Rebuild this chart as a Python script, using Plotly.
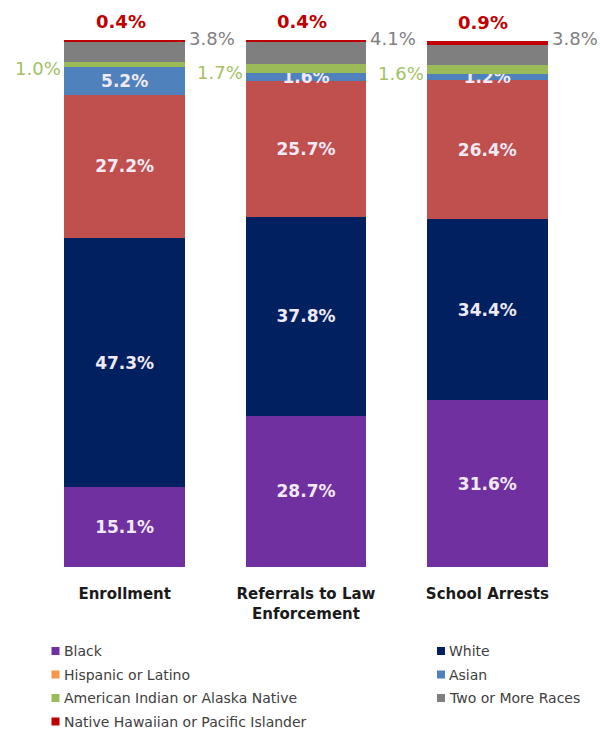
import plotly.graph_objects as go

# Share of students by race/ethnicity for each measure (percent)
categories = ["Enrollment", "Referrals to Law<br>Enforcement", "School Arrests"]
black = [15.1, 28.7, 31.6]
white = [47.3, 37.8, 34.4]
hispanic = [27.2, 25.7, 26.4]
asian = [5.2, 1.6, 1.2]
am_indian = [1.0, 1.7, 1.6]
two_or_more = [3.8, 4.1, 3.8]
nh_pi = [0.4, 0.4, 0.9]

series = [
    ("Black", black, "#7030A0", "#7030A0"),
    ("White", white, "#002060", "#002060"),
    ("Hispanic or Latino", hispanic, "#C0504D", "#F79646"),
    ("Asian", asian, "#4F81BD", "#4F81BD"),
    ("American Indian or Alaska Native", am_indian, "#9BBB59", "#9BBB59"),
    ("Two or More Races", two_or_more, "#7F7F7F", "#7F7F7F"),
    ("Native Hawaiian or Pacific Islander", nh_pi, "#C00000", "#C00000"),
]
inside_labelled = {"Black", "White", "Hispanic or Latino", "Asian"}

# Legend layout: two columns, filled row by row in a fixed order
legend_left = ["Black", "Hispanic or Latino", "American Indian or Alaska Native",
               "Native Hawaiian or Pacific Islander"]
legend_right = ["White", "Asian", "Two or More Races"]

FONT = "'DejaVu Sans', Verdana, sans-serif"
W, H = 600, 733
M_L, M_R, M_T, M_B = 34, 22, 40, 166
PW, PH = W - M_L - M_R, H - M_T - M_B
x_idx = list(range(len(categories)))

fig = go.Figure()
for name, vals, bar_col, _ in series:
    show_text = name in inside_labelled
    fig.add_trace(go.Bar(
        x=x_idx, y=vals, name=name, marker=dict(color=bar_col, line=dict(width=0)),
        width=0.665, showlegend=False,
        text=[f"{v:.1f}%" for v in vals] if show_text else None,
        textposition="inside" if show_text else "none",
        insidetextanchor="middle", constraintext="none",
        textfont=dict(family=FONT, size=17, color="#F0E9F6", weight="bold"),
        hoverinfo="skip",
    ))

# Outside labels for the thin top segments
annotations = []
for i in x_idx:
    base_ai = black[i] + white[i] + hispanic[i] + asian[i]
    annotations.append(dict(
        x=i - 0.3325, y=base_ai + am_indian[i] / 2, xref="x", yref="y",
        text=f"{am_indian[i]:.1f}%", showarrow=False, xanchor="right", yanchor="middle",
        xshift=-1, yshift=-4, font=dict(family=FONT, size=18, color="#A3C263"),
    ))
    top = base_ai + am_indian[i] + two_or_more[i] + nh_pi[i]
    annotations.append(dict(
        x=i + 0.3325, y=top, xref="x", yref="y",
        text=f"{two_or_more[i]:.1f}%", showarrow=False, xanchor="left", yanchor="middle",
        xshift=2, yshift=2, font=dict(family=FONT, size=18, color="#808080"),
    ))
    annotations.append(dict(
        x=i, y=top, xref="x", yref="y",
        text=f"{nh_pi[i]:.1f}%", showarrow=False, xanchor="center", yanchor="bottom",
        xshift=-4, yshift=6, font=dict(family=FONT, size=18, color="#C00000", weight="bold"),
    ))

# Legend key drawn below the chart (paper coordinates from pixel offsets)
key_colours = {name: leg_col for name, _, _, leg_col in series}


def px_x(px):
    return (px - M_L) / PW


def px_y(py):
    return (H - M_B - py) / PH


shapes = []
for col_x, names in ((55.5, legend_left), (441, legend_right)):
    for row, name in enumerate(names):
        cy = 651 + row * 23.5
        shapes.append(dict(
            type="rect", xref="paper", yref="paper",
            x0=px_x(col_x - 4), x1=px_x(col_x + 4), y0=px_y(cy + 4), y1=px_y(cy - 4),
            fillcolor=key_colours[name], line=dict(width=0),
        ))
        annotations.append(dict(
            x=px_x(col_x + 6), y=px_y(cy), xref="paper", yref="paper",
            text=name, showarrow=False, xanchor="left", yanchor="middle",
            font=dict(family=FONT, size=14, color="#404040"),
        ))

fig.update_layout(
    width=W, height=H,
    margin=dict(l=M_L, r=M_R, t=M_T, b=M_B),
    barmode="stack", bargap=0.335,
    plot_bgcolor="white", paper_bgcolor="white",
    font=dict(family=FONT),
    showlegend=False,
    xaxis=dict(
        tickmode="array", tickvals=x_idx, ticktext=categories, range=[-0.5, 2.5],
        showgrid=False, zeroline=False, showline=False, ticks="",
        ticklabelstandoff=16,
        tickfont=dict(family=FONT, size=15, color="#1a1a1a", weight="bold"),
    ),
    yaxis=dict(range=[0, 100], visible=False),
    annotations=annotations,
    shapes=shapes,
)

fig.write_html("out.html")
